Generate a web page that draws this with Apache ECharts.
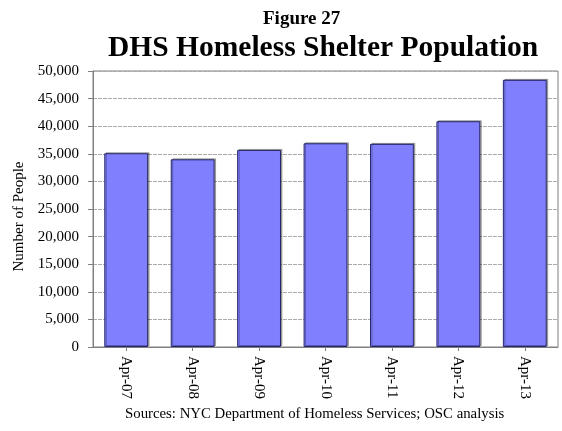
<!DOCTYPE html>
<html>
<head>
<meta charset="utf-8">
<script src="https://cdn.jsdelivr.net/npm/echarts@6/dist/echarts.min.js"></script>
<style>
  html, body { margin: 0; padding: 0; background: #fff; }
  #chart { width: 562px; height: 431px; }
</style>
</head>
<body>
<div id="chart"></div>
<script>
// Shelter census by April of each year
const categories = ['Apr-07', 'Apr-08', 'Apr-09', 'Apr-10', 'Apr-11', 'Apr-12', 'Apr-13'];
const population = [35100, 34000, 35700, 36900, 36800, 40900, 48400];
const yTicks = { min: 0, max: 50000, interval: 5000 };

const serif = '"Liberation Serif", "DejaVu Serif", serif';
const chart = echarts.init(document.getElementById('chart'), null, { renderer: 'canvas' });

chart.setOption({
  animation: false,
  backgroundColor: '#ffffff',
  title: [
    {
      text: 'Figure 27',
      left: 258, top: 5,
      textStyle: { fontFamily: serif, fontSize: 19, fontWeight: 'bold', color: '#000' }
    },
    {
      text: 'DHS Homeless Shelter Population',
      left: 103, top: 28,
      textStyle: { fontFamily: serif, fontSize: 29.5, fontWeight: 'bold', color: '#000' }
    },
    {
      text: 'Sources: NYC Department of Homeless Services; OSC analysis',
      left: 120, top: 402,
      textStyle: { fontFamily: serif, fontSize: 14.8, fontWeight: 'normal', color: '#000' }
    }
  ],
  grid: {
    left: 93, top: 71, width: 465, height: 276,
    show: true, borderColor: '#808080', borderWidth: 1, backgroundColor: 'transparent'
  },
  xAxis: {
    type: 'category',
    data: categories,
    boundaryGap: true,
    axisLine: { show: true, lineStyle: { color: '#808080', width: 1 } },
    axisTick: { show: true, alignWithLabel: true, length: 4, lineStyle: { color: '#808080' } },
    axisLabel: {
      rotate: -90, margin: 9, interval: 0,
      fontFamily: serif, fontSize: 15, color: '#000'
    },
    splitLine: { show: false }
  },
  yAxis: {
    type: 'value',
    min: yTicks.min, max: yTicks.max, interval: yTicks.interval,
    name: 'Number of People',
    nameLocation: 'middle',
    nameGap: 63,
    nameRotate: 90,
    nameTextStyle: { fontFamily: serif, fontSize: 15, color: '#000', padding: [0, 15, 0, 0] },
    axisLine: { show: true, lineStyle: { color: '#808080', width: 1 } },
    axisTick: { show: true, length: 5, lineStyle: { color: '#808080' } },
    axisLabel: {
      margin: 14, fontFamily: serif, fontSize: 15, color: '#000',
      formatter: v => v.toLocaleString('en-US')
    },
    splitLine: { show: true, lineStyle: { color: '#ababab', width: 1, type: [4, 1] } }
  },
  series: [{
    type: 'bar',
    data: population,
    barCategoryGap: '34%',
    itemStyle: {
      color: '#8080ff',
      borderColor: '#26266c',
      borderWidth: 1,
      shadowColor: 'rgba(0,0,0,0.3)',
      shadowOffsetX: 1.5,
      shadowOffsetY: -1
    },
    label: { show: false }
  }]
});
</script>
</body>
</html>
